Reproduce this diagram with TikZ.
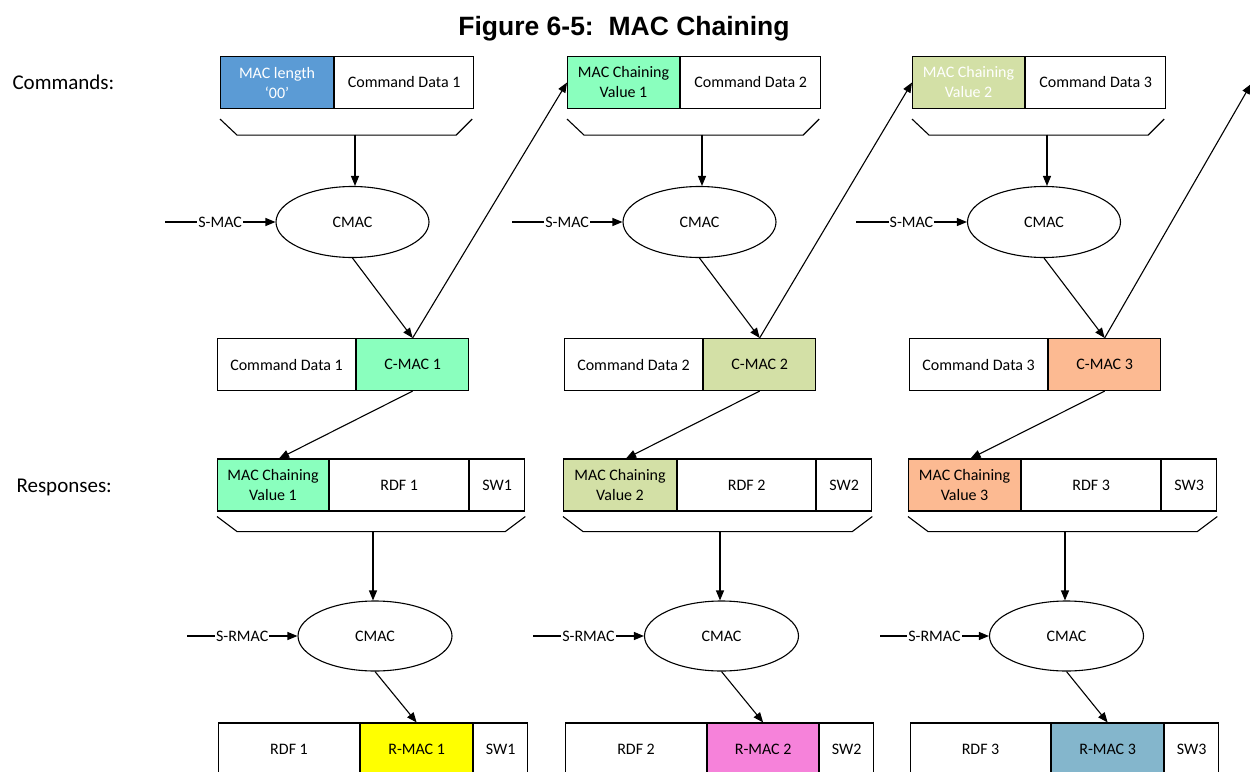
\documentclass[tikz,border=0pt]{standalone}
\usepackage{fontspec}
\setmainfont{Carlito}
\newfontfamily\headfont{Liberation Sans}
\usetikzlibrary{arrows.meta,shapes.geometric,calc}
\definecolor{macblue}{RGB}{91,155,213}
\definecolor{mint}{RGB}{138,255,190}
\definecolor{olive}{RGB}{211,224,166}
\definecolor{peach}{RGB}{252,186,146}
\definecolor{rmacyellow}{RGB}{255,255,0}
\definecolor{rmacpink}{RGB}{246,130,218}
\definecolor{rmacsteel}{RGB}{132,182,204}
\begin{document}
\begin{tikzpicture}[x=1pt,y=-1pt,
  ln/.style={line width=1.1pt},
  arr/.style={ln,-{Triangle[length=10pt,width=8pt]}},
  cell/.style={draw,line width=1.1pt,inner sep=0pt,align=center,
    font=\fontsize{16}{20}\selectfont,minimum height=52pt,anchor=west},
  cmac/.style={draw,line width=1.1pt,ellipse,inner sep=0pt,
    font=\fontsize{16}{16}\selectfont},
  tag/.style={fill=white,inner sep=1pt,font=\fontsize{16}{16}\selectfont},
  rowlabel/.style={anchor=base west,font=\fontsize{21}{21}\selectfont}]
\useasboundingbox (0,0) rectangle (1250,771);
\clip (0,0) rectangle (1250,771);

% title and row labels
\node[anchor=base,font=\headfont\bfseries\fontsize{26.5}{28}\selectfont] (title) at (624,35) {Figure 6-5:\ \ MAC Chaining};
\node[rowlabel] (cmdlabel) at (9,89) {Commands:};
\node[rowlabel] (rsplabel) at (13,492) {Responses:};

% ---- command row (input to CMAC) ----
\node[cell,minimum width=113pt,fill=macblue,text=white] (ca1) at (220,82.5) {MAC length\\‘00’};
\node[cell,minimum width=139pt] (cb1) at (ca1.east) {Command Data 1};
\node[cell,minimum width=112pt,fill=mint] (ca2) at (567,82.5) {MAC Chaining\\Value 1};
\node[cell,minimum width=140pt] (cb2) at (ca2.east) {Command Data 2};
\node[cell,minimum width=112pt,fill=olive,text=white] (ca3) at (912,82.5) {MAC Chaining\\Value 2};
\node[cell,minimum width=140pt] (cb3) at (ca3.east) {Command Data 3};

% ---- command CMAC ----
\node[cmac,minimum width=153pt,minimum height=71pt] (e1) at (352.5,222) {CMAC};
\node[cmac,minimum width=153pt,minimum height=71pt] (e2) at (699.5,222) {CMAC};
\node[cmac,minimum width=153pt,minimum height=71pt] (e3) at (1044,222) {CMAC};

% ---- command with C-MAC ----
\node[cell,minimum width=138pt] (md1) at (217,364.5) {Command Data 1};
\node[cell,minimum width=112pt,fill=mint] (cm1) at (md1.east) {C-MAC 1};
\node[cell,minimum width=138pt] (md2) at (564,364.5) {Command Data 2};
\node[cell,minimum width=112pt,fill=olive] (cm2) at (md2.east) {C-MAC 2};
\node[cell,minimum width=138pt] (md3) at (909,364.5) {Command Data 3};
\node[cell,minimum width=112pt,fill=peach] (cm3) at (md3.east) {C-MAC 3};

% ---- response row (input to CMAC) ----
\node[cell,minimum width=111pt,fill=mint] (ra1) at (217,485) {MAC Chaining\\Value 1};
\node[cell,minimum width=139pt] (rb1) at (ra1.east) {RDF 1};
\node[cell,minimum width=55pt] (rc1) at (rb1.east) {SW1};
\node[cell,minimum width=113pt,fill=olive] (ra2) at (563,485) {MAC Chaining\\Value 2};
\node[cell,minimum width=138pt] (rb2) at (ra2.east) {RDF 2};
\node[cell,minimum width=55pt] (rc2) at (rb2.east) {SW2};
\node[cell,minimum width=112pt,fill=peach] (ra3) at (908,485) {MAC Chaining\\Value 3};
\node[cell,minimum width=139pt] (rb3) at (ra3.east) {RDF 3};
\node[cell,minimum width=55pt] (rc3) at (rb3.east) {SW3};

% ---- response CMAC ----
\node[cmac,minimum width=154pt,minimum height=70pt] (f1) at (375,636) {CMAC};
\node[cmac,minimum width=154pt,minimum height=70pt] (f2) at (721.5,636) {CMAC};
\node[cmac,minimum width=154pt,minimum height=70pt] (f3) at (1066.5,636) {CMAC};

% ---- response with R-MAC ----
\node[cell,minimum width=141pt] (bd1) at (218,749) {RDF 1};
\node[cell,minimum width=112pt,fill=rmacyellow] (rm1) at (bd1.east) {R-MAC 1};
\node[cell,minimum width=54pt] (bs1) at (rm1.east) {SW1};
\node[cell,minimum width=141pt] (bd2) at (565,749) {RDF 2};
\node[cell,minimum width=111pt,fill=rmacpink] (rm2) at (bd2.east) {R-MAC 2};
\node[cell,minimum width=54pt] (bs2) at (rm2.east) {SW2};
\node[cell,minimum width=140pt] (bd3) at (910,749) {RDF 3};
\node[cell,minimum width=112pt,fill=rmacsteel] (rm3) at (bd3.east) {R-MAC 3};
\node[cell,minimum width=54pt] (bs3) at (rm3.east) {SW3};

% ---- brackets gathering each message ----
\foreach \g/\m in {1/355,2/702,3/1047}{
  \draw[ln] ($(ca\g.south west)+(0,10)$) -- ++(17,16)
    -- ($(cb\g.south east)+(-18,26)$) -- ++(16,-16);
  \coordinate (tb\g) at (\m,134.5);
}
\foreach \g/\m in {1/373,2/720,3/1065}{
  \draw[ln] ($(ra\g.south west)+(0,5)$) -- ++(20,15)
    -- ($(rc\g.south east)+(-20,20)$) -- ++(20,-15);
  \coordinate (rbk\g) at (\m,531);
}

% ---- key inputs ----
\coordinate (sm1) at (165,222);
\coordinate (sm2) at (512,222);
\coordinate (sm3) at (856,222);
\coordinate (sr1) at (187,636);
\coordinate (sr2) at (533,636);
\coordinate (sr3) at (880,636);
\coordinate (nextcmd) at (1251,84);

\foreach \g in {1,2,3}{
  \draw[arr] (tb\g) -- (tb\g |- e\g.north);
  \draw[arr] (sm\g) -- node[tag]{S-MAC} (e\g.west);
  \draw[arr] (e\g.south) -- (cm\g.north);
  \draw[arr] (cm\g.south) -- ([xshift=6pt]ra\g.north);
  \draw[arr] (rbk\g) -- (rbk\g |- f\g.north);
  \draw[arr] (sr\g) -- node[tag]{S-RMAC} (f\g.west);
  \draw[arr] (f\g.south) -- (rm\g.north);
}

% ---- chaining to the next command ----
\draw[arr] (cm1.north) -- (ca2.west);
\draw[arr] (cm2.north) -- (ca3.west);
\draw[arr] (cm3.north) -- (nextcmd);
\end{tikzpicture}
\end{document}
